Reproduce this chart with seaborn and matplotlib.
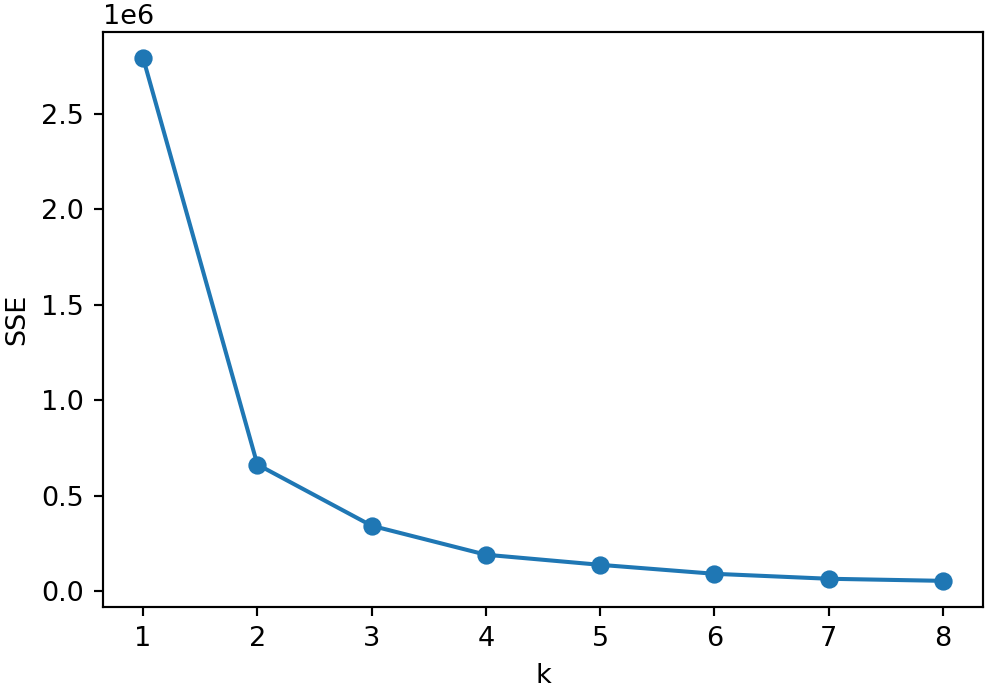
import matplotlib
matplotlib.use("Agg")
import matplotlib.pyplot as plt
import pandas as pd
import seaborn as sns

# elbow curve: sum of squared errors for each cluster count
k_values = [1, 2, 3, 4, 5, 6, 7, 8]
sse_values = [2795000, 663000, 342000, 190000, 137000, 90000, 64000, 53000]

df = pd.DataFrame({"k": k_values, "SSE": sse_values})

DPI = 195
fig = plt.figure(figsize=(991 / DPI, 689 / DPI), dpi=DPI)
ax = fig.add_axes([0.104, 0.119, 0.888, 0.835])

sns.lineplot(data=df, x="k", y="SSE", marker="o", color="#1f77b4",
             markeredgecolor="#1f77b4", linewidth=1.5, markersize=6, ax=ax)

ax.set_xlabel("k")
ax.set_ylabel("SSE")

fig.savefig("out.png", dpi=DPI)
